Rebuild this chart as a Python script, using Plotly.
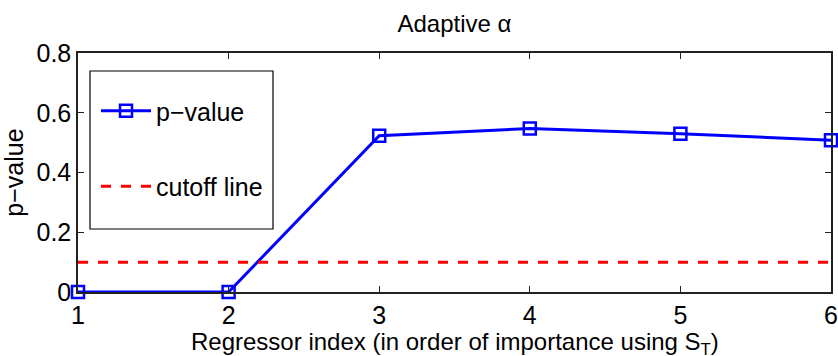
import plotly.graph_objects as go

x_index = [1, 2, 3, 4, 5, 6]
p_values = [0.0, 0.0, 0.523, 0.547, 0.530, 0.508]
cutoff_values = [0.1, 0.1, 0.1, 0.1, 0.1, 0.1]
x_ticks = [1, 2, 3, 4, 5, 6]
y_ticks = [0, 0.2, 0.4, 0.6, 0.8]
y_tick_labels = ["0", "0.2", "0.4", "0.6", "0.8"]
x_title = "Regressor index (in order of importance using S<sub>T</sub>)"
y_title = "p\u2212value"

FONT = "Liberation Sans, Arial, sans-serif"
FS = 25

L, R, T, B = 78, 7, 53, 64
W, H = 838, 356
PW, PH = W - L - R, H - T - B


def px_x(p):
    return (p - L) / PW


def px_y(p):
    return (H - B - p) / PH


fig = go.Figure()
fig.add_trace(go.Scatter(
    x=x_index, y=p_values, mode="lines+markers", name="p\u2212value",
    line=dict(color="#0000ff", width=3),
    marker=dict(symbol="square-open", size=12, color="#0000ff", line=dict(width=2.5, color="#0000ff")),
    legendgroup="a", cliponaxis=False,
))
fig.add_trace(go.Scatter(
    x=x_index, y=cutoff_values, mode="lines", name="cutoff line",
    line=dict(color="#ff0000", width=3, dash="10px,10px"),
    legendgroup="b",
))

# legend frame
fig.add_shape(type="rect", xref="paper", yref="paper",
              x0=px_x(90), x1=px_x(273), y0=px_y(229), y1=px_y(71),
              line=dict(color="black", width=1.2), fillcolor="white", layer="below")

# x-axis title placed precisely below the tick labels
fig.add_annotation(text=x_title, xref="paper", yref="paper", x=0.5, y=0,
                   xanchor="center", yanchor="top", yshift=-(326 - (H - B)),
                   showarrow=False, font=dict(family=FONT, size=24, color="black"))

fig.update_layout(
    width=W, height=H,
    margin=dict(l=L, r=R, t=T, b=B),
    paper_bgcolor="white", plot_bgcolor="white",
    font=dict(family=FONT, size=FS, color="black"),
    title=dict(text="Adaptive \u03b1", x=0.5, xanchor="center", xref="paper",
               y=1 - 24 / H, yref="container", yanchor="middle",
               font=dict(family=FONT, size=24, color="black")),
    showlegend=True,
    legend=dict(
        x=px_x(96), y=px_y(88), xanchor="left", yanchor="top",
        bgcolor="rgba(0,0,0,0)", borderwidth=0,
        font=dict(family=FONT, size=FS, color="black"),
        tracegroupgap=40, itemwidth=50,
    ),
)
fig.update_xaxes(
    range=[1, 6], tickvals=x_ticks, ticks="inside", ticklen=6, tickcolor="#222",
    showline=True, linecolor="#222", linewidth=1.5, mirror="ticks", showgrid=False,
    zeroline=False, tickfont=dict(family=FONT, size=FS), automargin=False,
)
fig.update_yaxes(
    range=[0, 0.8], tickvals=y_ticks, ticktext=y_tick_labels, ticks="inside", ticklen=6,
    tickcolor="#222", showline=True, linecolor="#222", linewidth=1.5, mirror="ticks",
    showgrid=False, zeroline=False, tickfont=dict(family=FONT, size=FS), automargin=False,
    title=dict(text=y_title, font=dict(family=FONT, size=FS), standoff=6),
)

fig.write_html("out.html", config={"displayModeBar": False},
               post_script="document.body.style.margin='0';document.body.style.overflow='hidden';")
